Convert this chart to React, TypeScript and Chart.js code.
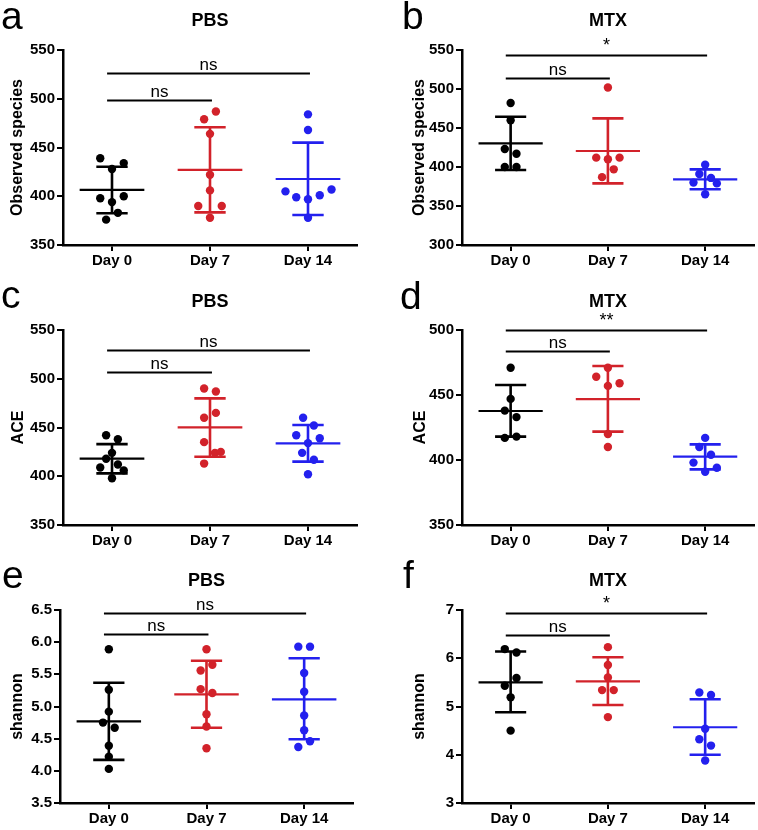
import React, { useEffect, useRef } from 'react';
import { Chart, registerables } from 'chart.js';

Chart.register(...registerables);

const days = ['Day 0', 'Day 7', 'Day 14'];
const groupColors = ['#000000', '#d2222a', '#2320ee'];
const FONT = '"Liberation Sans", Arial, Helvetica, sans-serif';

// ---------- Panel a: Observed species, PBS ----------
const aDay0 = [439, 434, 428, 398, 400, 394, 383, 376];
const aDay7 = [479, 487, 464, 422, 406, 390, 390, 378];
const aDay14 = [484, 468, 405, 399, 397, 401, 407, 378];
const aJit0 = [-0.12, 0.12, 0, -0.12, 0.12, 0, 0.06, -0.06];
const aJit7 = [-0.06, 0.06, 0, 0, 0, -0.12, 0.12, 0];
const aJit14 = [0, 0, -0.23, -0.12, 0, 0.12, 0.24, 0];
const aMeans = [406.5, 427, 417.7];
const aUpper = [430.3, 470.7, 455];
const aLower = [382.5, 383.5, 380.8];
const aSigY = [526.4, 498.7];
const aSigLabels = ['ns', 'ns'];

// ---------- Panel b: Observed species, MTX ----------
const bDay0 = [482, 460, 423, 417, 400, 400];
const bDay7 = [502, 412, 410, 412, 397, 387];
const bDay14 = [403, 391, 386, 380, 379, 365];
const bJit0 = [0, 0, -0.06, 0.06, -0.06, 0.06];
const bJit7 = [0, -0.12, 0, 0.12, 0.06, -0.06];
const bJit14 = [0, -0.06, 0.06, -0.12, 0.12, 0];
const bMeans = [430.3, 420.5, 384.2];
const bUpper = [464.5, 462.4, 397];
const bLower = [396.2, 379, 371.4];
const bSigY = [543.6, 513.7];
const bSigLabels = ['*', 'ns'];

// ---------- Panel c: ACE, PBS ----------
const cDay0 = [442, 438, 424, 418, 412, 409, 406, 398];
const cDay7 = [490, 487, 460, 465, 435, 424, 425, 413];
const cDay14 = [460, 452, 442, 439, 434, 424, 417, 402];
const cJit0 = [-0.06, 0.06, 0, -0.06, 0.06, -0.12, 0.12, 0];
const cJit7 = [-0.06, 0.06, -0.06, 0.06, -0.06, 0.05, 0.11, -0.06];
const cJit14 = [-0.05, 0.06, -0.12, 0.12, 0, -0.06, 0.06, 0];
const cMeans = [418, 450.2, 433.8];
const cUpper = [433, 479.9, 452.6];
const cLower = [403, 420, 415];
const cSigY = [529.5, 507.3];
const cSigLabels = ['ns', 'ns'];

// ---------- Panel d: ACE, MTX ----------
const dDay0 = [471, 447, 438, 433, 417, 418];
const dDay7 = [471, 464, 457, 459, 420, 410];
const dDay14 = [417, 410, 404, 398, 394, 391];
const dJit0 = [0, 0, -0.06, 0.06, -0.06, 0.06];
const dJit7 = [0, -0.12, 0, 0.12, 0, 0];
const dJit14 = [0, -0.06, 0.06, -0.12, 0.12, 0];
const dMeans = [437.7, 446.9, 402.6];
const dUpper = [457.7, 472.3, 412];
const dLower = [418, 421.8, 392.8];
const dSigY = [500, 483.8];
const dSigLabels = ['**', 'ns'];

// ---------- Panel e: shannon, PBS ----------
const eDay0 = [5.89, 5.26, 4.92, 4.75, 4.67, 4.39, 4.22, 4.03];
const eDay7 = [5.89, 5.56, 5.65, 5.27, 5.21, 4.88, 4.69, 4.35];
const eDay14 = [5.93, 5.93, 5.52, 5.23, 4.86, 4.63, 4.37, 4.46];
const eJit0 = [0, 0, 0, -0.06, 0.06, 0, 0, 0];
const eJit7 = [0, -0.06, 0.06, -0.06, 0.06, 0, 0, 0];
const eJit14 = [-0.06, 0.06, 0, 0, 0, 0, -0.06, 0.06];
const eMeans = [4.77, 5.19, 5.11];
const eUpper = [5.37, 5.71, 5.75];
const eLower = [4.17, 4.67, 4.49];
const eSigY = [6.46, 6.12];
const eSigLabels = ['ns', 'ns'];

// ---------- Panel f: shannon, MTX ----------
const fDay0 = [6.19, 6.12, 5.43, 5.59, 5.19, 4.5];
const fDay7 = [6.23, 5.86, 5.6, 5.34, 5.34, 4.78];
const fDay14 = [5.29, 5.24, 4.54, 4.32, 4.19, 3.88];
const fJit0 = [-0.06, 0.06, -0.06, 0.06, 0, 0];
const fJit7 = [0, 0, 0, -0.06, 0.06, 0];
const fJit14 = [-0.06, 0.06, 0, -0.06, 0.06, 0];
const fMeans = [5.5, 5.52, 4.57];
const fUpper = [6.14, 6.02, 5.15];
const fLower = [4.88, 5.03, 4.0];
const fSigY = [6.93, 6.48];
const fSigLabels = ['*', 'ns'];

// comparisons: long bar Day0->Day14, short bar Day0->Day7
const sigTo = [2, 1];

type PanelCfg = {
  letter: string; title: string; yLabel: string;
  min: number; max: number; step: number; decimals: number;
  values: number[][]; jitter: number[][];
  means: number[]; upper: number[]; lower: number[];
  sigY: number[]; sigLabels: string[];
  left: number; top: number; width: number; height: number;
  padLeft: number; padRight: number; padTop: number;
  yAxisW: number; xAxisH: number; yTitlePad: number;
  letterX: number; letterY: number; titleY: number;
};

const panels: PanelCfg[] = [
  { letter: 'a', title: 'PBS', yLabel: 'Observed species', min: 350, max: 550, step: 50, decimals: 0,
    values: [aDay0, aDay7, aDay14], jitter: [aJit0, aJit7, aJit14], means: aMeans, upper: aUpper, lower: aLower,
    sigY: aSigY, sigLabels: aSigLabels,
    left: 0, top: 0, width: 379, height: 280, padLeft: 0, padRight: 22, padTop: 50, yAxisW: 63, xAxisH: 35, yTitlePad: 8,
    letterX: 1, letterY: 29, titleY: 21 },
  { letter: 'b', title: 'MTX', yLabel: 'Observed species', min: 300, max: 550, step: 50, decimals: 0,
    values: [bDay0, bDay7, bDay14], jitter: [bJit0, bJit7, bJit14], means: bMeans, upper: bUpper, lower: bLower,
    sigY: bSigY, sigLabels: bSigLabels,
    left: 379, top: 0, width: 379, height: 280, padLeft: 23, padRight: 2, padTop: 50, yAxisW: 60, xAxisH: 35, yTitlePad: 8,
    letterX: 23, letterY: 29, titleY: 21 },
  { letter: 'c', title: 'PBS', yLabel: 'ACE', min: 350, max: 550, step: 50, decimals: 0,
    values: [cDay0, cDay7, cDay14], jitter: [cJit0, cJit7, cJit14], means: cMeans, upper: cUpper, lower: cLower,
    sigY: cSigY, sigLabels: cSigLabels,
    left: 0, top: 280, width: 379, height: 275, padLeft: 0, padRight: 22, padTop: 50, yAxisW: 63, xAxisH: 30, yTitlePad: 9,
    letterX: 1, letterY: 28, titleY: 22 },
  { letter: 'd', title: 'MTX', yLabel: 'ACE', min: 350, max: 500, step: 50, decimals: 0,
    values: [dDay0, dDay7, dDay14], jitter: [dJit0, dJit7, dJit14], means: dMeans, upper: dUpper, lower: dLower,
    sigY: dSigY, sigLabels: dSigLabels,
    left: 379, top: 280, width: 379, height: 275, padLeft: 23, padRight: 2, padTop: 50, yAxisW: 60, xAxisH: 30, yTitlePad: 9,
    letterX: 21, letterY: 29, titleY: 22 },
  { letter: 'e', title: 'PBS', yLabel: 'shannon', min: 3.5, max: 6.5, step: 0.5, decimals: 1,
    values: [eDay0, eDay7, eDay14], jitter: [eJit0, eJit7, eJit14], means: eMeans, upper: eUpper, lower: eLower,
    sigY: eSigY, sigLabels: eSigLabels,
    left: 0, top: 555, width: 379, height: 275, padLeft: 0, padRight: 26, padTop: 55, yAxisW: 60, xAxisH: 27, yTitlePad: 8,
    letterX: 2, letterY: 33, titleY: 26 },
  { letter: 'f', title: 'MTX', yLabel: 'shannon', min: 3, max: 7, step: 1, decimals: 0,
    values: [fDay0, fDay7, fDay14], jitter: [fJit0, fJit7, fJit14], means: fMeans, upper: fUpper, lower: fLower,
    sigY: fSigY, sigLabels: fSigLabels,
    left: 379, top: 555, width: 379, height: 275, padLeft: 23, padRight: 2, padTop: 55, yAxisW: 60, xAxisH: 27, yTitlePad: 8,
    letterX: 24, letterY: 33, titleY: 26 },
];

function Panel({ cfg }: { cfg: PanelCfg }) {
  const ref = useRef<HTMLCanvasElement>(null);
  useEffect(() => {
    if (!ref.current) return;
    const datasets = cfg.values.map((vals, g) => ({
      type: 'scatter' as const,
      data: vals.map((v, i) => ({ x: g + cfg.jitter[g][i], y: v })),
      backgroundColor: groupColors[g],
      borderColor: groupColors[g],
      pointRadius: 4.2,
      pointHoverRadius: 4.2,
      pointBorderWidth: 0,
    }));

    const overlay = {
      id: 'overlay' + cfg.letter,
      beforeDatasetsDraw(chart: any) {
        const { ctx } = chart;
        const xs = chart.scales.x;
        const ys = chart.scales.y;
        ctx.save();
        ctx.lineCap = 'butt';
        cfg.means.forEach((m, g) => {
          ctx.strokeStyle = groupColors[g];
          ctx.lineWidth = 2.6;
          const yU = ys.getPixelForValue(cfg.upper[g]);
          const yL = ys.getPixelForValue(cfg.lower[g]);
          const yM = ys.getPixelForValue(m);
          const xc = xs.getPixelForValue(g);
          ctx.beginPath();
          ctx.moveTo(xc, yU); ctx.lineTo(xc, yL);
          ctx.moveTo(xs.getPixelForValue(g - 0.16), yU); ctx.lineTo(xs.getPixelForValue(g + 0.16), yU);
          ctx.moveTo(xs.getPixelForValue(g - 0.16), yL); ctx.lineTo(xs.getPixelForValue(g + 0.16), yL);
          ctx.stroke();
          ctx.lineWidth = 2.2;
          ctx.beginPath();
          ctx.moveTo(xs.getPixelForValue(g - 0.33), yM); ctx.lineTo(xs.getPixelForValue(g + 0.33), yM);
          ctx.stroke();
        });
        ctx.restore();
      },
      afterDraw(chart: any) {
        const { ctx } = chart;
        const xs = chart.scales.x;
        const ys = chart.scales.y;
        const area = chart.chartArea;
        ctx.save();
        ctx.fillStyle = '#000';
        ctx.strokeStyle = '#000';
        // panel letter
        ctx.font = `39px ${FONT}`;
        ctx.textAlign = 'left';
        ctx.textBaseline = 'alphabetic';
        ctx.fillText(cfg.letter, cfg.letterX, cfg.letterY);
        // title
        ctx.font = `bold 18px ${FONT}`;
        ctx.textAlign = 'center';
        ctx.textBaseline = 'middle';
        ctx.fillText(cfg.title, (area.left + area.right) / 2, cfg.titleY);
        // significance bars
        cfg.sigY.forEach((sy, k) => {
          const y = Math.round(ys.getPixelForValue(sy)) + 0.5;
          const x1 = xs.getPixelForValue(-0.05);
          const x2 = xs.getPixelForValue(sigTo[k] + 0.02);
          ctx.lineWidth = 2;
          ctx.beginPath();
          ctx.moveTo(x1, y); ctx.lineTo(x2, y);
          ctx.stroke();
          const label = cfg.sigLabels[k];
          ctx.font = label === 'ns' ? `17px ${FONT}` : `18px ${FONT}`;
          ctx.textBaseline = 'alphabetic';
          ctx.fillText(label, (x1 + x2) / 2, y - (label === 'ns' ? 4 : 4.5));
        });
        ctx.restore();
      },
    };

    const chart = new Chart(ref.current, {
      type: 'scatter',
      data: { datasets: datasets as any },
      options: {
        responsive: false,
        animation: false,
        devicePixelRatio: 1,
        events: [],
        layout: { padding: { top: cfg.padTop, right: cfg.padRight, left: cfg.padLeft, bottom: 0 } },
        plugins: { legend: { display: false }, tooltip: { enabled: false }, title: { display: false } },
        scales: {
          x: {
            type: 'linear',
            min: -0.5,
            max: 2.5,
            afterBuildTicks: (s: any) => { s.ticks = [0, 1, 2].map((v) => ({ value: v })); },
            afterFit: (s: any) => { s.height = cfg.xAxisH; },
            ticks: {
              callback: (v: any) => days[Math.round(Number(v))],
              color: '#000',
              font: { family: FONT, size: 15, weight: 'bold' },
              padding: 1,
              maxRotation: 0,
              autoSkip: false,
            },
            grid: { display: true, drawOnChartArea: false, drawTicks: true, tickLength: 6, color: '#000', lineWidth: 2 },
            border: { display: true, color: '#000', width: 2.5 },
          },
          y: {
            type: 'linear',
            min: cfg.min,
            max: cfg.max,
            afterFit: (s: any) => { s.width = cfg.yAxisW; },
            ticks: {
              stepSize: cfg.step,
              callback: (v: any) => Number(v).toFixed(cfg.decimals),
              color: '#000',
              font: { family: FONT, size: 15, weight: 'bold' },
              padding: 2,
            },
            title: {
              display: true,
              text: cfg.yLabel,
              color: '#000',
              font: { family: FONT, size: 16, weight: 'bold' },
              padding: { top: cfg.yTitlePad, bottom: 0 },
            },
            grid: { display: true, drawOnChartArea: false, drawTicks: true, tickLength: 6, color: '#000', lineWidth: 2 },
            border: { display: true, color: '#000', width: 2.5 },
          },
        },
      } as any,
      plugins: [overlay],
    });
    return () => chart.destroy();
  }, [cfg]);

  return (
    <canvas
      ref={ref}
      width={cfg.width}
      height={cfg.height}
      style={{ position: 'absolute', left: cfg.left, top: cfg.top, width: cfg.width, height: cfg.height }}
    />
  );
}

export default function App() {
  return (
    <div style={{ position: 'absolute', left: 0, top: 0, width: 758, height: 830, background: '#fff' }}>
      {panels.map((p) => (
        <Panel key={p.letter} cfg={p} />
      ))}
    </div>
  );
}
